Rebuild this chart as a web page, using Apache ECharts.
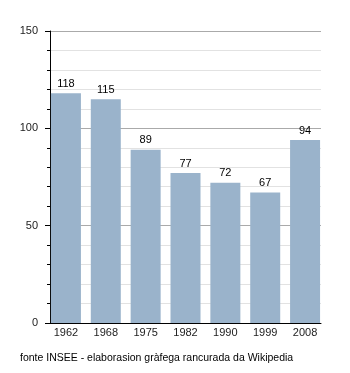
<!DOCTYPE html>
<html><head><meta charset="utf-8">
<script src="https://cdn.jsdelivr.net/npm/echarts@6/dist/echarts.min.js"></script>
<style>html,body{margin:0;padding:0;background:#fff}#c{width:350px;height:373px}</style>
</head><body><div id="c"></div>
<script>
var categories = ['1962','1968','1975','1982','1990','1999','2008'];
var values = [118, 115, 89, 77, 72, 67, 94];
var yTicks = [0, 50, 100, 150];
var footer = 'fonte INSEE - elaborasion gràfega rancurada da Wikipedia';

var chart = echarts.init(document.getElementById('c'), null, {renderer:'canvas'});
var font = 'Liberation Sans, Arial, sans-serif';
chart.setOption({
  animation: false,
  textStyle: {fontFamily: font},
  graphic: [{type:'text', left: 20, top: 353, style:{text: footer, font: '10.5px Liberation Sans, Arial, sans-serif', fill:'#000'}}],
  grid: [
    {left: 50, top: 31, width: 271, height: 292},
    {left: 46, top: 31, width: 279, height: 292}
  ],
  xAxis: [
    {gridIndex:0, type:'value', min:0, max:1, axisLine:{show:true, onZero:false, lineStyle:{color:'#000', width:1}}, axisTick:{show:false}, axisLabel:{show:false}, splitLine:{show:false}},
    {gridIndex:1, type:'category', data: categories, axisLine:{show:false}, axisTick:{show:false},
     axisLabel:{color:'#222', fontSize:11, margin:4, fontFamily: font}}
  ],
  yAxis: [
    {gridIndex:0, type:'value', min:yTicks[0], max:yTicks[yTicks.length-1], interval:50,
     axisLine:{show:true, lineStyle:{color:'#000'}},
     axisTick:{show:true, length:5, lineStyle:{color:'#000'}},
     minorTick:{show:true, splitNumber:5, length:3, lineStyle:{color:'#000'}},
     axisLabel:{color:'#222', fontSize:11, margin:12, fontFamily: font},
     splitLine:{show:true, lineStyle:{color:'#aaa'}},
     minorSplitLine:{show:true, lineStyle:{color:'#e2e2e2'}}},
    {gridIndex:1, type:'value', min:0, max:150, show:false, splitLine:{show:false}}
  ],
  series: [{
    type:'bar', xAxisIndex:1, yAxisIndex:1, data: values, barWidth:30,
    itemStyle:{color:'#9ab3cb'},
    label:{show:true, position:'top', distance:4, color:'#000', fontSize:11, fontFamily: font}
  }]
});
</script></body></html>
